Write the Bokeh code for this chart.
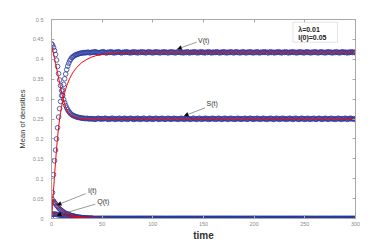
from bokeh.plotting import figure
from bokeh.models import (Range1d, FixedTicker, LinearAxis, Label, Arrow,
                          NormalHead, BoxAnnotation, ColumnDataSource,
                          CustomJSTickFormatter)
from bokeh.embed import file_html
from bokeh.resources import INLINE

# ---------------- data ----------------
# stochastic means (circles), one per time unit: t = 0..300
t_obs = list(range(0, 301))

V_early = [0.0, 0.065, 0.11, 0.145, 0.172, 0.20, 0.228, 0.255, 0.276, 0.294,
           0.309, 0.323, 0.337, 0.351, 0.363, 0.374, 0.383, 0.390, 0.396, 0.400,
           0.404, 0.406, 0.408, 0.410, 0.411, 0.412, 0.413, 0.414, 0.415, 0.415,
           0.416]
V_late = [0.416, 0.417, 0.416, 0.417, 0.417, 0.418, 0.417, 0.416, 0.417, 0.418,
          0.417, 0.418, 0.419, 0.418, 0.417, 0.417, 0.416, 0.417, 0.418, 0.418,
          0.419, 0.418, 0.417, 0.416, 0.417, 0.418, 0.417, 0.418, 0.419, 0.417,
          0.417, 0.416, 0.418, 0.417, 0.418, 0.419, 0.418, 0.417, 0.416, 0.417,
          0.418, 0.417, 0.418, 0.419, 0.418, 0.417, 0.417, 0.416, 0.418, 0.417,
          0.419, 0.418, 0.417, 0.418, 0.416, 0.417, 0.418, 0.417, 0.419, 0.418,
          0.417, 0.418, 0.416, 0.417, 0.418, 0.419, 0.417, 0.418, 0.417, 0.416,
          0.418, 0.417, 0.419, 0.418, 0.417, 0.418, 0.416, 0.417, 0.418, 0.417,
          0.419, 0.417, 0.418, 0.417, 0.416, 0.418, 0.417, 0.419, 0.418, 0.417,
          0.418, 0.416, 0.417, 0.418, 0.419, 0.418, 0.417, 0.417, 0.418, 0.416,
          0.417, 0.418, 0.417, 0.419, 0.418, 0.416, 0.417, 0.418, 0.417, 0.418,
          0.419, 0.418, 0.417, 0.416, 0.418, 0.417, 0.418, 0.419, 0.417, 0.418,
          0.416, 0.417, 0.418, 0.417, 0.419, 0.418, 0.417, 0.416, 0.418, 0.417,
          0.418, 0.417, 0.419, 0.418, 0.417, 0.416, 0.418, 0.417, 0.418, 0.419,
          0.417, 0.418, 0.416, 0.417, 0.418, 0.417, 0.419, 0.418, 0.417, 0.416,
          0.418, 0.419, 0.417, 0.418, 0.417, 0.416, 0.418, 0.417, 0.419, 0.418,
          0.417, 0.416, 0.418, 0.417, 0.418, 0.419, 0.417, 0.418, 0.416, 0.417,
          0.418, 0.417, 0.419, 0.418, 0.416, 0.417, 0.418, 0.417, 0.418, 0.419,
          0.417, 0.418, 0.417, 0.416, 0.418, 0.419, 0.417, 0.418, 0.417, 0.416,
          0.418, 0.417, 0.418, 0.419, 0.417, 0.418, 0.416, 0.417, 0.418, 0.417,
          0.419, 0.418, 0.417, 0.416, 0.418, 0.417, 0.418, 0.419, 0.417, 0.418,
          0.417, 0.416, 0.418, 0.417, 0.419, 0.418, 0.417, 0.418, 0.416, 0.417,
          0.418, 0.419, 0.417, 0.418, 0.417, 0.416, 0.418, 0.417, 0.418, 0.419,
          0.417, 0.418, 0.416, 0.417, 0.418, 0.419, 0.417, 0.418, 0.417, 0.416,
          0.418, 0.417, 0.419, 0.418, 0.417, 0.418, 0.416, 0.417, 0.418, 0.417,
          0.419, 0.418, 0.417, 0.416, 0.418, 0.417, 0.419, 0.418, 0.417, 0.418,
          0.417, 0.416, 0.418, 0.417, 0.418, 0.419, 0.417, 0.418, 0.417, 0.418]

S_early = [0.439, 0.436, 0.430, 0.422, 0.412, 0.398, 0.382, 0.364, 0.348, 0.334,
           0.321, 0.309, 0.299, 0.291, 0.284, 0.278, 0.273, 0.269, 0.266, 0.263,
           0.261, 0.259, 0.258, 0.257, 0.256, 0.255, 0.254, 0.254, 0.253, 0.253,
           0.252]
S_late = [0.252, 0.252, 0.251, 0.251, 0.252, 0.251, 0.250, 0.251, 0.251, 0.250,
          0.251, 0.250, 0.249, 0.250, 0.251, 0.252, 0.251, 0.250, 0.250, 0.251,
          0.250, 0.251, 0.252, 0.251, 0.250, 0.249, 0.250, 0.251, 0.250, 0.252,
          0.251, 0.250, 0.249, 0.251, 0.250, 0.251, 0.252, 0.250, 0.249, 0.250,
          0.251, 0.252, 0.250, 0.251, 0.249, 0.250, 0.251, 0.252, 0.251, 0.250,
          0.249, 0.250, 0.251, 0.250, 0.252, 0.251, 0.249, 0.250, 0.251, 0.250,
          0.252, 0.251, 0.250, 0.249, 0.250, 0.251, 0.252, 0.250, 0.251, 0.249,
          0.250, 0.251, 0.252, 0.251, 0.250, 0.249, 0.251, 0.250, 0.252, 0.251,
          0.250, 0.249, 0.250, 0.251, 0.252, 0.250, 0.251, 0.249, 0.250, 0.251,
          0.252, 0.250, 0.251, 0.250, 0.249, 0.251, 0.250, 0.252, 0.251, 0.250,
          0.249, 0.251, 0.250, 0.252, 0.251, 0.250, 0.249, 0.250, 0.251, 0.252,
          0.250, 0.251, 0.249, 0.250, 0.251, 0.252, 0.250, 0.249, 0.251, 0.250,
          0.251, 0.252, 0.250, 0.251, 0.249, 0.250, 0.251, 0.250, 0.252, 0.251,
          0.250, 0.249, 0.251, 0.250, 0.252, 0.251, 0.250, 0.249, 0.250, 0.251,
          0.252, 0.250, 0.251, 0.249, 0.250, 0.251, 0.252, 0.250, 0.251, 0.250,
          0.249, 0.251, 0.250, 0.252, 0.251, 0.250, 0.249, 0.251, 0.250, 0.251,
          0.252, 0.250, 0.249, 0.250, 0.251, 0.252, 0.251, 0.250, 0.249, 0.251,
          0.250, 0.251, 0.252, 0.250, 0.251, 0.249, 0.250, 0.251, 0.252, 0.250,
          0.251, 0.249, 0.250, 0.251, 0.250, 0.252, 0.251, 0.250, 0.249, 0.250,
          0.251, 0.252, 0.250, 0.251, 0.249, 0.250, 0.251, 0.252, 0.250, 0.251,
          0.250, 0.249, 0.251, 0.250, 0.252, 0.251, 0.250, 0.249, 0.251, 0.250,
          0.252, 0.251, 0.250, 0.249, 0.250, 0.251, 0.252, 0.250, 0.251, 0.249,
          0.250, 0.251, 0.252, 0.250, 0.249, 0.251, 0.250, 0.251, 0.252, 0.250,
          0.249, 0.250, 0.251, 0.252, 0.251, 0.250, 0.249, 0.250, 0.251, 0.252,
          0.250, 0.251, 0.249, 0.250, 0.251, 0.252, 0.250, 0.251, 0.250, 0.249,
          0.251, 0.250, 0.252, 0.251, 0.250, 0.249, 0.251, 0.250, 0.251, 0.252,
          0.250, 0.249, 0.251, 0.250, 0.252, 0.251, 0.250, 0.251, 0.249, 0.250]

I_early = [0.050, 0.047, 0.044, 0.040, 0.037, 0.033, 0.030, 0.027, 0.024, 0.022,
           0.020, 0.018, 0.016, 0.014, 0.013, 0.012, 0.011, 0.010, 0.009, 0.008,
           0.007, 0.007, 0.006, 0.005, 0.005, 0.004, 0.004, 0.003, 0.003, 0.003,
           0.002]
I_late = [0.002, 0.002, 0.001, 0.001, 0.001, 0.001, 0.001, 0.001, 0.001, 0.001,
          0.0, 0.0, 0.0, 0.0, 0.0, 0.0, 0.0, 0.0, 0.0, 0.0,
          0.0, 0.0, 0.0, 0.0, 0.0, 0.0, 0.0, 0.0, 0.0, 0.0,
          0.0, 0.0, 0.0, 0.0, 0.0, 0.0, 0.0, 0.0, 0.0, 0.0,
          0.0, 0.0, 0.0, 0.0, 0.0, 0.0, 0.0, 0.0, 0.0, 0.0,
          0.0, 0.0, 0.0, 0.0, 0.0, 0.0, 0.0, 0.0, 0.0, 0.0,
          0.0, 0.0, 0.0, 0.0, 0.0, 0.0, 0.0, 0.0, 0.0, 0.0,
          0.0, 0.0, 0.0, 0.0, 0.0, 0.0, 0.0, 0.0, 0.0, 0.0,
          0.0, 0.0, 0.0, 0.0, 0.0, 0.0, 0.0, 0.0, 0.0, 0.0,
          0.0, 0.0, 0.0, 0.0, 0.0, 0.0, 0.0, 0.0, 0.0, 0.0,
          0.0, 0.0, 0.0, 0.0, 0.0, 0.0, 0.0, 0.0, 0.0, 0.0,
          0.0, 0.0, 0.0, 0.0, 0.0, 0.0, 0.0, 0.0, 0.0, 0.0,
          0.0, 0.0, 0.0, 0.0, 0.0, 0.0, 0.0, 0.0, 0.0, 0.0,
          0.0, 0.0, 0.0, 0.0, 0.0, 0.0, 0.0, 0.0, 0.0, 0.0,
          0.0, 0.0, 0.0, 0.0, 0.0, 0.0, 0.0, 0.0, 0.0, 0.0,
          0.0, 0.0, 0.0, 0.0, 0.0, 0.0, 0.0, 0.0, 0.0, 0.0,
          0.0, 0.0, 0.0, 0.0, 0.0, 0.0, 0.0, 0.0, 0.0, 0.0,
          0.0, 0.0, 0.0, 0.0, 0.0, 0.0, 0.0, 0.0, 0.0, 0.0,
          0.0, 0.0, 0.0, 0.0, 0.0, 0.0, 0.0, 0.0, 0.0, 0.0,
          0.0, 0.0, 0.0, 0.0, 0.0, 0.0, 0.0, 0.0, 0.0, 0.0,
          0.0, 0.0, 0.0, 0.0, 0.0, 0.0, 0.0, 0.0, 0.0, 0.0,
          0.0, 0.0, 0.0, 0.0, 0.0, 0.0, 0.0, 0.0, 0.0, 0.0,
          0.0, 0.0, 0.0, 0.0, 0.0, 0.0, 0.0, 0.0, 0.0, 0.0,
          0.0, 0.0, 0.0, 0.0, 0.0, 0.0, 0.0, 0.0, 0.0, 0.0,
          0.0, 0.0, 0.0, 0.0, 0.0, 0.0, 0.0, 0.0, 0.0, 0.0,
          0.0, 0.0, 0.0, 0.0, 0.0, 0.0, 0.0, 0.0, 0.0, 0.0,
          0.0, 0.0, 0.0, 0.0, 0.0, 0.0, 0.0, 0.0, 0.0, 0.0]

Q_early = [0.010, 0.011, 0.011, 0.011, 0.011, 0.010, 0.010, 0.009, 0.009, 0.008,
           0.008, 0.007, 0.007, 0.006, 0.006, 0.005, 0.005, 0.004, 0.004, 0.004,
           0.003, 0.003, 0.003, 0.003, 0.002, 0.002, 0.002, 0.001, 0.001, 0.001,
           0.001]
Q_late = [0.001, 0.001, 0.001, 0.001, 0.001, 0.0, 0.0, 0.0, 0.0, 0.0,
          0.0, 0.0, 0.0, 0.0, 0.0, 0.0, 0.0, 0.0, 0.0, 0.0,
          0.0, 0.0, 0.0, 0.0, 0.0, 0.0, 0.0, 0.0, 0.0, 0.0,
          0.0, 0.0, 0.0, 0.0, 0.0, 0.0, 0.0, 0.0, 0.0, 0.0,
          0.0, 0.0, 0.0, 0.0, 0.0, 0.0, 0.0, 0.0, 0.0, 0.0,
          0.0, 0.0, 0.0, 0.0, 0.0, 0.0, 0.0, 0.0, 0.0, 0.0,
          0.0, 0.0, 0.0, 0.0, 0.0, 0.0, 0.0, 0.0, 0.0, 0.0,
          0.0, 0.0, 0.0, 0.0, 0.0, 0.0, 0.0, 0.0, 0.0, 0.0,
          0.0, 0.0, 0.0, 0.0, 0.0, 0.0, 0.0, 0.0, 0.0, 0.0,
          0.0, 0.0, 0.0, 0.0, 0.0, 0.0, 0.0, 0.0, 0.0, 0.0,
          0.0, 0.0, 0.0, 0.0, 0.0, 0.0, 0.0, 0.0, 0.0, 0.0,
          0.0, 0.0, 0.0, 0.0, 0.0, 0.0, 0.0, 0.0, 0.0, 0.0,
          0.0, 0.0, 0.0, 0.0, 0.0, 0.0, 0.0, 0.0, 0.0, 0.0,
          0.0, 0.0, 0.0, 0.0, 0.0, 0.0, 0.0, 0.0, 0.0, 0.0,
          0.0, 0.0, 0.0, 0.0, 0.0, 0.0, 0.0, 0.0, 0.0, 0.0,
          0.0, 0.0, 0.0, 0.0, 0.0, 0.0, 0.0, 0.0, 0.0, 0.0,
          0.0, 0.0, 0.0, 0.0, 0.0, 0.0, 0.0, 0.0, 0.0, 0.0,
          0.0, 0.0, 0.0, 0.0, 0.0, 0.0, 0.0, 0.0, 0.0, 0.0,
          0.0, 0.0, 0.0, 0.0, 0.0, 0.0, 0.0, 0.0, 0.0, 0.0,
          0.0, 0.0, 0.0, 0.0, 0.0, 0.0, 0.0, 0.0, 0.0, 0.0,
          0.0, 0.0, 0.0, 0.0, 0.0, 0.0, 0.0, 0.0, 0.0, 0.0,
          0.0, 0.0, 0.0, 0.0, 0.0, 0.0, 0.0, 0.0, 0.0, 0.0,
          0.0, 0.0, 0.0, 0.0, 0.0, 0.0, 0.0, 0.0, 0.0, 0.0,
          0.0, 0.0, 0.0, 0.0, 0.0, 0.0, 0.0, 0.0, 0.0, 0.0,
          0.0, 0.0, 0.0, 0.0, 0.0, 0.0, 0.0, 0.0, 0.0, 0.0,
          0.0, 0.0, 0.0, 0.0, 0.0, 0.0, 0.0, 0.0, 0.0, 0.0,
          0.0, 0.0, 0.0, 0.0, 0.0, 0.0, 0.0, 0.0, 0.0, 0.0]

# deterministic solution (red lines)
t_det = [0, 1, 2, 3, 4, 5, 6, 7, 8, 9, 10, 11, 12, 13, 14, 15, 16, 18, 20, 22,
         25, 30, 35, 40, 45, 50, 60, 70, 80, 90, 100, 150, 200, 250, 300]
S_det = [0.437, 0.426, 0.414, 0.402, 0.390, 0.378, 0.366, 0.353, 0.341, 0.329,
         0.317, 0.306, 0.296, 0.287, 0.279, 0.273, 0.268, 0.261, 0.257, 0.255,
         0.253, 0.251, 0.250, 0.250, 0.250, 0.250, 0.250, 0.250, 0.250, 0.250,
         0.250, 0.250, 0.250, 0.250, 0.250]
V_det = [0.0, 0.030, 0.070, 0.108, 0.143, 0.175, 0.204, 0.229, 0.250, 0.267,
         0.282, 0.295, 0.306, 0.316, 0.325, 0.333, 0.340, 0.352, 0.362, 0.370,
         0.380, 0.392, 0.400, 0.406, 0.410, 0.412, 0.415, 0.417, 0.418, 0.418,
         0.418, 0.418, 0.418, 0.418, 0.418]
I_det = [0.050, 0.047, 0.044, 0.041, 0.038, 0.035, 0.032, 0.029, 0.026, 0.024,
         0.022, 0.020, 0.018, 0.016, 0.015, 0.014, 0.013, 0.010, 0.008, 0.007,
         0.005, 0.003, 0.002, 0.001, 0.001, 0.000, 0.000, 0.000, 0.000, 0.000,
         0.000, 0.000, 0.000, 0.000, 0.000]
Q_det = [0.010, 0.011, 0.012, 0.012, 0.012, 0.012, 0.011, 0.011, 0.010, 0.010,
         0.009, 0.009, 0.008, 0.008, 0.007, 0.007, 0.006, 0.005, 0.004, 0.004,
         0.003, 0.002, 0.001, 0.001, 0.000, 0.000, 0.000, 0.000, 0.000, 0.000,
         0.000, 0.000, 0.000, 0.000, 0.000]

x_ticks = [0, 50, 100, 150, 200, 250, 300]
y_ticks = [0, 0.05, 0.1, 0.15, 0.2, 0.25, 0.3, 0.35, 0.4, 0.45, 0.5]
y_tick_labels = ["0", "0.05", "0.1", "0.15", "0.2", "0.25", "0.3", "0.35",
                 "0.4", "0.45", "0.5"]

param_lines = ["\u03bb=0.01", "I(0)=0.05"]
curve_names = ["V(t)", "S(t)", "I(t)", "Q(t)"]

# ---------------- figure ----------------
FONT = "Liberation Sans"
AX = "#a8a8a8"

p = figure(frame_width=304, frame_height=199,
           x_range=Range1d(0, 300), y_range=Range1d(0, 0.5),
           output_backend="svg", toolbar_location=None,
           min_border_left=51, min_border_right=36,
           min_border_top=19, min_border_bottom=26)
p.xgrid.visible = False
p.ygrid.visible = False
p.outline_line_color = AX
p.background_fill_color = "white"
p.border_fill_color = "white"


def style_axis(ax):
    ax.axis_line_color = AX
    ax.major_tick_line_color = AX
    ax.major_tick_in = 3
    ax.major_tick_out = 0
    ax.minor_tick_line_color = None
    ax.major_label_text_font = FONT
    ax.major_label_text_color = "#8a8a8a"
    ax.major_label_text_font_size = "5.5px"


p.xaxis.ticker = FixedTicker(ticks=x_ticks)
p.yaxis.ticker = FixedTicker(ticks=y_ticks)
p.yaxis.major_label_overrides = dict(zip(y_ticks, y_tick_labels))
style_axis(p.xaxis[0])
style_axis(p.yaxis[0])
p.xaxis.major_label_standoff = 3
p.yaxis.major_label_standoff = 8

p.yaxis.axis_label = "Mean of densities"
p.yaxis.axis_label_text_font = FONT
p.yaxis.axis_label_text_font_size = "7.5px"
p.yaxis.axis_label_text_font_style = "normal"
p.yaxis.axis_label_text_color = "#333333"
p.yaxis.axis_label_standoff = 3

p.xaxis.axis_label = "time"
p.xaxis.axis_label_text_font = FONT
p.xaxis.axis_label_text_font_size = "10px"
p.xaxis.axis_label_text_font_style = "bold"
p.xaxis.axis_label_text_color = "#333333"
p.xaxis.axis_label_standoff = 1

blank = CustomJSTickFormatter(code="return '';")
ax_r = LinearAxis(ticker=FixedTicker(ticks=y_ticks), formatter=blank)
style_axis(ax_r)
p.add_layout(ax_r, "right")
ax_t = LinearAxis(ticker=FixedTicker(ticks=x_ticks), formatter=blank)
style_axis(ax_t)
p.add_layout(ax_t, "above")

# circles (stochastic means)
BLUE = "#2b3c9e"
for ys in (V_early + V_late, S_early + S_late, I_early + I_late,
           Q_early + Q_late):
    src = ColumnDataSource(dict(t=t_obs, y=ys))
    p.scatter("t", "y", source=src, marker="circle", size=4.6,
              fill_color=None, line_color=BLUE, line_width=0.8)

# red deterministic lines
for ys in (V_det, S_det, I_det, Q_det):
    src = ColumnDataSource(dict(t=t_det, y=ys))
    p.line("t", "y", source=src, line_color="#ff0000", line_width=1)

# parameter box
p.add_layout(BoxAnnotation(left=238.3, right=282.2, top=0.493, bottom=0.443,
                           fill_color="white", fill_alpha=1,
                           line_color="#888888", line_width=0.8))
p.add_layout(Label(x=243.5, y=0.476, text=param_lines[0], text_font=FONT,
                   text_font_size="7px", text_font_style="bold",
                   text_baseline="middle", text_color="#222222"))
p.add_layout(Label(x=243.5, y=0.455, text=param_lines[1], text_font=FONT,
                   text_font_size="7px", text_font_style="bold",
                   text_baseline="middle", text_color="#222222"))

# curve annotations with arrows
ann = [
    # name, text x, text y, arrow start x, y, arrow end x, y
    (curve_names[0], 144.6, 0.447, 143.3, 0.443, 124.4, 0.426),
    (curve_names[1], 153.0, 0.288, 151.5, 0.278, 131.0, 0.258),
    (curve_names[2], 36.1, 0.071, 33.7, 0.0625, 5.6, 0.034),
    (curve_names[3], 45.2, 0.0416, 43.3, 0.036, 5.6, 0.008),
]
for name, tx, ty, xs, ys, xe, ye in ann:
    p.add_layout(Arrow(x_start=xs, y_start=ys, x_end=xe, y_end=ye,
                       line_color="#555555", line_width=0.6,
                       end=NormalHead(size=4, fill_color="black",
                                      line_color="black", line_width=0.5)))
    p.add_layout(Label(x=tx, y=ty, text=name, text_font=FONT,
                       text_font_size="7px", text_baseline="middle",
                       text_color="#333333"))

open("out.html", "w").write(file_html(p, INLINE))
